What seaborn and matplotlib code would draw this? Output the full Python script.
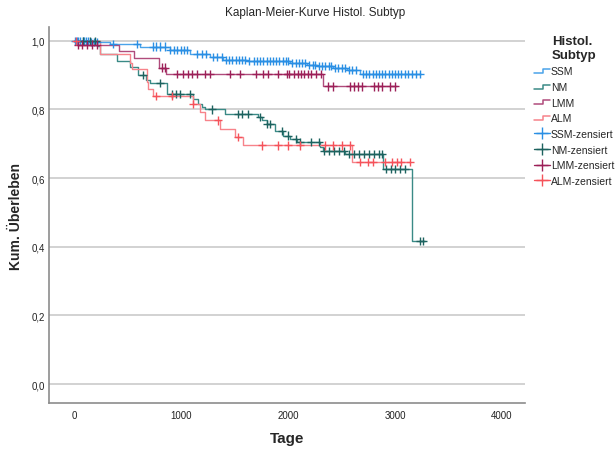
"""Kaplan-Meier curves by histological subtype (SPSS-style recreation)."""
import numpy as np
import pandas as pd
import matplotlib
matplotlib.use("Agg")
import matplotlib.pyplot as plt
import seaborn as sns
from matplotlib.lines import Line2D
from matplotlib.legend_handler import HandlerBase

# step curves: event times (days) and survival after each step
SSM_T = [0, 150, 336, 617, 897, 1084, 1271, 1393, 1617, 2019, 2178, 2271, 2421, 2551, 2673, 3234]
SSM_S = [1.0, 0.997, 0.99, 0.983, 0.974, 0.962, 0.952, 0.945, 0.94, 0.935, 0.929, 0.926, 0.921, 0.915, 0.904, 0.904]
NM_T = [0, 215, 243, 402, 523, 598, 673, 710, 869, 1112, 1159, 1196, 1224, 1411, 1720, 1760,
        1804, 1879, 1953, 2019, 2084, 2299, 2327, 2533, 2888, 3159, 3280]
NM_S = [1.0, 0.986, 0.962, 0.942, 0.924, 0.9, 0.887, 0.877, 0.845, 0.831, 0.816, 0.807, 0.8, 0.787,
        0.778, 0.768, 0.758, 0.738, 0.724, 0.714, 0.704, 0.69, 0.68, 0.67, 0.626, 0.417, 0.417]
LMM_T = [0, 37, 420, 560, 790, 860, 2327, 3019]
LMM_S = [1.0, 0.989, 0.97, 0.95, 0.922, 0.902, 0.867, 0.867]
ALM_T = [0, 243, 523, 542, 682, 692, 738, 1112, 1178, 1224, 1364, 1505, 1579, 2598, 3140]
ALM_S = [1.0, 0.962, 0.935, 0.918, 0.879, 0.86, 0.838, 0.816, 0.793, 0.768, 0.743, 0.72, 0.695, 0.647, 0.647]

# censored observations (days)
SSM_C = [10, 25, 40, 60, 80, 95, 110, 130, 160, 185, 210, 365, 590, 740, 770, 800, 850, 900, 930,
         960, 1000, 1030, 1056, 1150, 1200, 1230, 1300, 1340, 1380, 1420, 1450, 1480, 1510, 1540,
         1570, 1600, 1640, 1680, 1710, 1740, 1770, 1800, 1830, 1860, 1890, 1920, 1950, 1980, 2000,
         2040, 2070, 2100, 2130, 2160, 2200, 2230, 2250, 2290, 2320, 2350, 2380, 2400, 2440, 2470,
         2500, 2530, 2570, 2600, 2640, 2700, 2730, 2760, 2790, 2820, 2850, 2880, 2910, 2940, 2970,
         3000, 3030, 3060, 3090, 3120, 3160, 3200, 3234]
NM_C = [84, 150, 200, 645, 804, 916, 950, 990, 1084, 1290, 1533, 1570, 1626, 1738, 1804, 1832,
        1944, 2000, 2075, 2112, 2215, 2290, 2336, 2383, 2430, 2476, 2523, 2570, 2617, 2664, 2710,
        2760, 2800, 2850, 2880, 2920, 2960, 3000, 3050, 3090, 3234, 3262]
LMM_C = [40, 70, 120, 170, 210, 822, 850, 963, 1019, 1065, 1103, 1150, 1224, 1271, 1458, 1551,
         1701, 1766, 1813, 1907, 1995, 2005, 2052, 2090, 2117, 2145, 2183, 2215, 2262, 2308, 2374,
         2421, 2579, 2617, 2654, 2692, 2804, 2841, 2879, 2953, 3000]
ALM_C = [19, 766, 916, 1112, 1346, 1533, 1757, 1907, 2000, 2112, 2346, 2421, 2505, 2579, 2673,
         2748, 2794, 2907, 2972, 3019, 3056, 3140]

GROUPS = ["SSM", "NM", "LMM", "ALM"]
LINE_COL = {"SSM": "#4aa3ea", "NM": "#3a8a86", "LMM": "#b04c7c", "ALM": "#f7838a"}
MARK_COL = {"SSM": "#2a8fe4", "NM": "#1d625f", "LMM": "#9c2058", "ALM": "#f5525a"}

curves = {"SSM": (SSM_T, SSM_S, SSM_C), "NM": (NM_T, NM_S, NM_C),
          "LMM": (LMM_T, LMM_S, LMM_C), "ALM": (ALM_T, ALM_S, ALM_C)}

steps, cens = [], []
for g in GROUPS:
    t, s, c = curves[g]
    steps.append(pd.DataFrame({"t": t, "s": s, "g": g}))
    idx = np.searchsorted(t, c, side="right") - 1
    cens.append(pd.DataFrame({"t": c, "s": np.asarray(s)[idx], "g": g}))
steps = pd.concat(steps, ignore_index=True)
cens = pd.concat(cens, ignore_index=True)

sns.set_style("white")
plt.rcParams["font.family"] = ["Liberation Sans", "DejaVu Sans"]

fig = plt.figure(figsize=(6.16, 4.52), dpi=100)
ax = fig.add_axes([49 / 616, 48 / 452, 476 / 616, 376 / 452])

for y in [0, 0.2, 0.4, 0.6, 0.8, 1.0]:
    ax.axhline(y, color="#d2d2d2", lw=1.4, zorder=0)

sns.lineplot(data=steps, x="t", y="s", hue="g", palette=LINE_COL, drawstyle="steps-post",
             estimator=None, sort=False, legend=False, lw=1.0, ax=ax, zorder=2)
sns.scatterplot(data=cens, x="t", y="s", hue="g", palette=MARK_COL, marker="+", s=35,
                linewidth=1.0, legend=False, ax=ax, zorder=3)

ax.set_xlim(-234, 4215)
ax.set_ylim(-0.055, 1.04)
ax.set_xticks([0, 1000, 2000, 3000, 4000])
ax.set_yticks([0, 0.2, 0.4, 0.6, 0.8, 1.0])
ax.set_yticklabels([f"{v:.1f}".replace(".", ",") for v in [0, 0.2, 0.4, 0.6, 0.8, 1.0]])
ax.tick_params(axis="both", length=0, labelsize=7, colors="#222222")
ax.tick_params(axis="y", pad=3)
ax.tick_params(axis="x", pad=5)
for side in ["top", "right"]:
    ax.spines[side].set_visible(False)
for side in ["left", "bottom"]:
    ax.spines[side].set_color("#8c8c8c")
    ax.spines[side].set_linewidth(1.2)
ax.set_xlabel("Tage", fontsize=11, fontweight="bold", labelpad=8)
ax.set_ylabel("Kum. Überleben", fontsize=10, fontweight="bold", labelpad=6)
fig.text(0.512, 0.972, "Kaplan-Meier-Kurve Histol. Subtyp", ha="center", va="center", fontsize=8.5)


class StepHandler(HandlerBase):
    def create_artists(self, legend, orig, xd, yd, w, h, fontsize, trans):
        x = [xd, xd + w * 0.55, xd + w * 0.55, xd + w]
        y = [yd + h * 0.2, yd + h * 0.2, yd + h * 0.75, yd + h * 0.75]
        ln = Line2D(x, y, color=orig.get_color(), lw=1.1, transform=trans)
        return [ln]


handles, labels = [], []
for g in GROUPS:
    handles.append(Line2D([], [], color=LINE_COL[g]))
    labels.append(g)
for g in GROUPS:
    handles.append(Line2D([], [], color=MARK_COL[g], marker="+", markersize=8, lw=1.0))
    labels.append(f"{g}-zensiert")

handler_map = {h: StepHandler() for h in handles[:4]}
leg = fig.legend(handles, labels, handler_map=handler_map, loc="upper left",
                 bbox_to_anchor=(534 / 616, 1 - 36 / 452), frameon=False, fontsize=7.5,
                 title="Histol.\nSubtyp", title_fontproperties={"weight": "bold", "size": 9.5},
                 handlelength=1.5, handletextpad=0.1, labelspacing=0.54, alignment="center",
                 borderaxespad=0, borderpad=0)

fig.savefig("out.png", dpi=100)
